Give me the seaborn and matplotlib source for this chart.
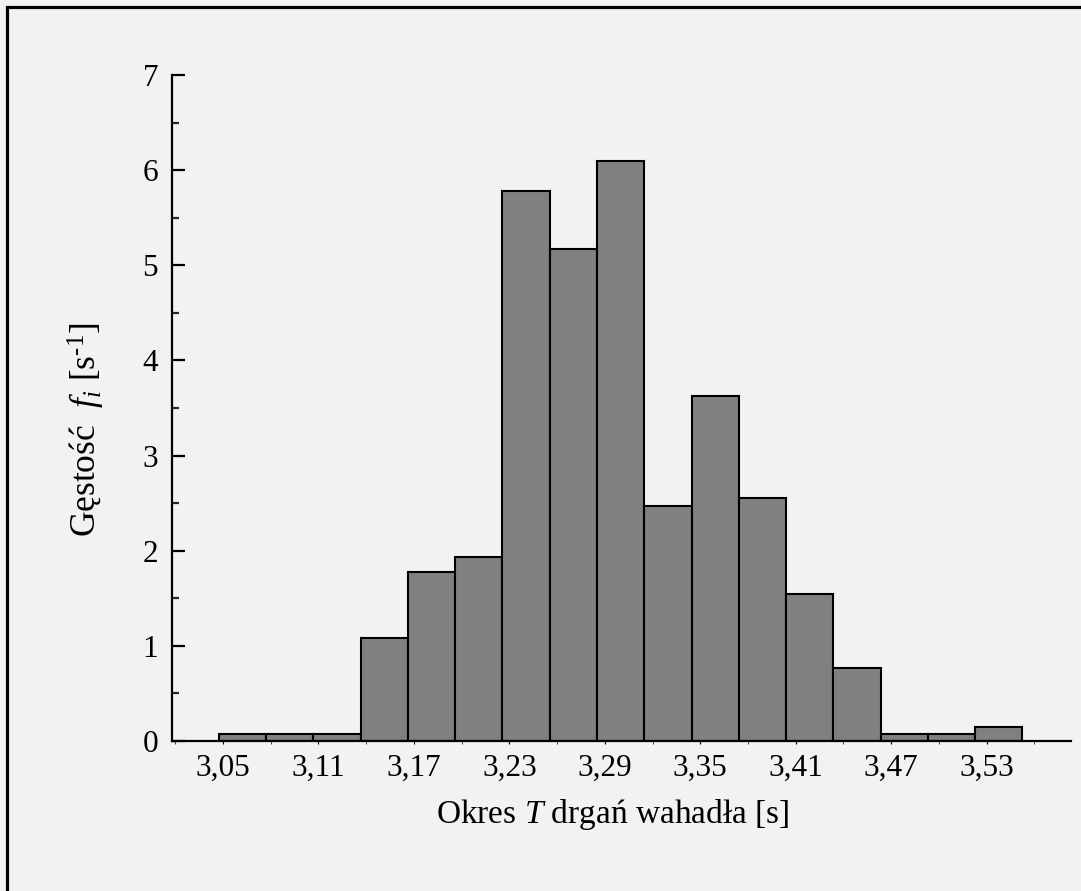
import numpy as np
import pandas as pd
import matplotlib
matplotlib.use("Agg")
import matplotlib.pyplot as plt
from matplotlib.patches import Rectangle
import seaborn as sns

# ---- data ----
bin_start = 3.0475
bin_width = 0.0297
densities = [0.07, 0.07, 0.07, 1.08, 1.78, 1.93, 5.78, 5.17, 6.10,
             2.47, 3.63, 2.55, 1.545, 0.77, 0.07, 0.07, 0.145]
tick_values = [3.05, 3.11, 3.17, 3.23, 3.29, 3.35, 3.41, 3.47, 3.53]
tick_labels = ["3,05", "3,11", "3,17", "3,23", "3,29", "3,35", "3,41", "3,47", "3,53"]
y_ticks = [0, 1, 2, 3, 4, 5, 6, 7]

edges = [bin_start + bin_width * k for k in range(len(densities) + 1)]
centers = [(edges[k] + edges[k + 1]) / 2 for k in range(len(densities))]
df = pd.DataFrame({"T": centers, "f": densities})

sns.set_theme(style="white")
plt.rcParams["font.family"] = ["Liberation Serif", "DejaVu Serif"]
plt.rcParams["mathtext.fontset"] = "custom"
plt.rcParams["mathtext.rm"] = "Liberation Serif"
plt.rcParams["mathtext.it"] = "Liberation Serif:italic"

bg = "#f2f2f2"
fig = plt.figure(figsize=(10.81, 8.91), dpi=100, facecolor=bg)
W, H = 1081, 891
ax = fig.add_axes([172 / W, 1 - 741 / H, (1071 - 172) / W, (741 - 75) / H])
ax.set_facecolor(bg)

sns.histplot(data=df, x="T", weights="f", bins=edges, stat="count",
             color="#808080", edgecolor="black", linewidth=1.5, alpha=1,
             ax=ax)

ax.set_xlim(3.018, 3.583)
ax.set_ylim(0, 7)
ax.set_xticks(tick_values)
ax.set_xticklabels(tick_labels)
ax.set_xticks([v + 0.03 for v in tick_values[:-1]] + [tick_values[0] - 0.03, tick_values[-1] + 0.03], minor=True)
ax.set_yticks(y_ticks)
ax.set_yticklabels([str(v) for v in y_ticks])
ax.set_yticks([v + 0.5 for v in y_ticks[:-1]], minor=True)

for s in ["top", "right"]:
    ax.spines[s].set_visible(False)
for s in ["left", "bottom"]:
    ax.spines[s].set_color("black")
    ax.spines[s].set_linewidth(1.6)

ax.tick_params(axis="y", which="major", direction="in", length=9.5, width=1.6,
               pad=10, labelsize=22.5, colors="black", left=True)
ax.tick_params(axis="y", which="minor", direction="in", length=5, width=1.6, left=True)
ax.tick_params(axis="x", which="major", direction="out", length=2.5, width=0.8,
               pad=7, labelsize=22.5, colors="black", bottom=True)
ax.tick_params(axis="x", which="minor", direction="out", length=2, width=0.6, bottom=True)

ax.set_xlabel(r"Okres $T$ drgań wahadła [s]", fontsize=24, color="black")
ax.set_ylabel(r"Gęstość  $f_i$ [s$^{\text{-}1}$]", fontsize=25.5, color="black")
ax.xaxis.set_label_coords(0.49, -0.084)
ax.yaxis.set_label_coords(-0.072, 0.467)
ax.grid(False)

fig.add_artist(Rectangle((7.5 / W, -0.2), 1.5, 1.2 - 6.5 / H, transform=fig.transFigure,
                         fill=False, edgecolor="black", linewidth=2.3))

fig.savefig("out.png", dpi=100, facecolor=bg)
